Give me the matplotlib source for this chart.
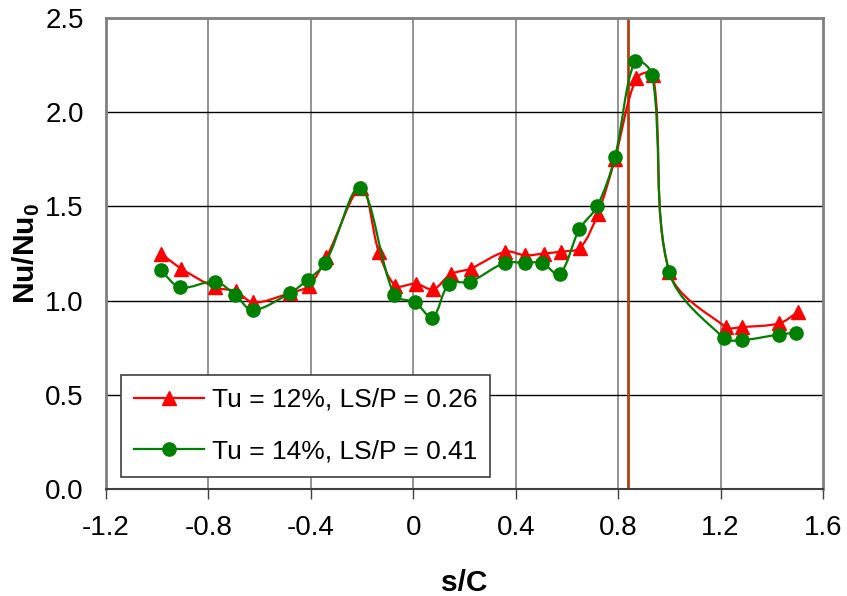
import matplotlib
matplotlib.use('Agg')
import numpy as np
import matplotlib.pyplot as plt
from matplotlib.path import Path
from matplotlib.patches import PathPatch
from matplotlib.lines import Line2D

plt.rcParams['font.family'] = ['Liberation Sans', 'DejaVu Sans']
plt.rcParams['mathtext.fontset'] = 'custom'
plt.rcParams['mathtext.rm'] = 'Liberation Sans'
plt.rcParams['mathtext.bf'] = 'Liberation Sans:bold'

# Tu = 12%, LS/P = 0.26
red_s = [-0.986, -0.906, -0.773, -0.693, -0.624, -0.482, -0.407, -0.339, -0.203,
         -0.135, -0.070, 0.010, 0.078, 0.146, 0.224, 0.360, 0.438, 0.509, 0.577,
         0.651, 0.720, 0.787, 0.871, 0.936, 1.000, 1.220, 1.285, 1.430, 1.503]
red_nu = [1.25, 1.17, 1.07, 1.05, 0.99, 1.04, 1.08, 1.23, 1.60,
          1.26, 1.08, 1.09, 1.06, 1.14, 1.17, 1.26, 1.24, 1.25, 1.26,
          1.28, 1.46, 1.75, 2.18, 2.20, 1.15, 0.86, 0.86, 0.88, 0.94]

# Tu = 14%, LS/P = 0.41
green_s = [-0.986, -0.909, -0.773, -0.695, -0.627, -0.482, -0.413, -0.343, -0.207,
           -0.074, 0.008, 0.075, 0.140, 0.221, 0.357, 0.435, 0.502, 0.571, 0.649,
           0.718, 0.787, 0.865, 0.933, 1.000, 1.214, 1.283, 1.428, 1.496]
green_nu = [1.16, 1.07, 1.10, 1.03, 0.95, 1.04, 1.11, 1.20, 1.60,
            1.03, 0.99, 0.91, 1.09, 1.10, 1.20, 1.20, 1.20, 1.14, 1.38,
            1.50, 1.76, 2.27, 2.20, 1.15, 0.80, 0.79, 0.82, 0.83]

marker_line = 0.837
labels = ['Tu = 12%, LS/P = 0.26', 'Tu = 14%, LS/P = 0.41']


def smooth_path(ax, xs, ys):
    # smoothed line like Excel: cubic Bezier segments, tangents scaled by chord length
    pts = ax.transData.transform(np.column_stack([xs, ys]))
    n = len(pts)
    verts = [pts[0]]
    codes = [Path.MOVETO]
    for i in range(n - 1):
        p0 = pts[i - 1] if i > 0 else pts[i]
        p1 = pts[i]
        p2 = pts[i + 1]
        p3 = pts[i + 2] if i + 2 < n else pts[i + 1]
        d01 = np.hypot(*(p1 - p0))
        d12 = np.hypot(*(p2 - p1))
        d23 = np.hypot(*(p3 - p2))
        t1 = (p2 - p0) * d12 / (d01 + d12) / 3 if d01 + d12 > 0 else 0
        t2 = (p3 - p1) * d12 / (d12 + d23) / 3 if d12 + d23 > 0 else 0
        verts += [p1 + t1, p2 - t2, p2]
        codes += [Path.CURVE4] * 3
    verts = ax.transData.inverted().transform(np.array(verts))
    return Path(verts, codes)


fig = plt.figure(figsize=(8.47, 5.96), dpi=100)
ax = fig.add_axes([0.1251, 0.1795, 0.8466, 0.7903])

ax.set_xlim(-1.2, 1.6)
ax.set_ylim(0, 2.5)
ax.set_xticks([-1.2, -0.8, -0.4, 0, 0.4, 0.8, 1.2, 1.6])
ax.set_xticklabels(['-1.2', '-0.8', '-0.4', '0', '0.4', '0.8', '1.2', '1.6'])
ax.set_yticks([0, 0.5, 1.0, 1.5, 2.0, 2.5])
ax.set_yticklabels(['0.0', '0.5', '1.0', '1.5', '2.0', '2.5'])

for x in [-0.8, -0.4, 0, 0.4, 0.8, 1.2]:
    ax.axvline(x, color='#808080', lw=1.2, zorder=1)
for y in [0.5, 1.0, 1.5, 2.0]:
    ax.axhline(y, color='black', lw=1.0, zorder=1)

ax.axvline(marker_line, color='#B04010', lw=2, zorder=2)

ax.add_patch(PathPatch(smooth_path(ax, red_s, red_nu), facecolor='none',
                       edgecolor='#FF0000', lw=1.6, zorder=3))
ax.plot(red_s, red_nu, linestyle='none', marker='^', ms=10.5,
        color='#FF0000', zorder=4)
ax.add_patch(PathPatch(smooth_path(ax, green_s, green_nu), facecolor='none',
                       edgecolor='#008000', lw=1.6, zorder=5))
ax.plot(green_s, green_nu, linestyle='none', marker='o', ms=9.5,
        color='#008000', zorder=6)

for side in ['left', 'right', 'top']:
    ax.spines[side].set_color('#808080')
    ax.spines[side].set_linewidth(2)
ax.spines['bottom'].set_color('#404040')
ax.spines['bottom'].set_linewidth(1.5)

ax.tick_params(axis='x', direction='out', length=7, width=1, color='#404040',
               labelsize=20, pad=12)
ax.tick_params(axis='y', length=0, labelsize=20, pad=16)

ax.set_xlabel('s/C', fontsize=21.5, fontweight='bold', labelpad=20)
ax.set_ylabel(r'Nu/Nu$_\mathbf{0}$', fontsize=21.5, fontweight='bold', labelpad=2)

handles = [Line2D([], [], color='#FF0000', lw=1.6, marker='^', ms=10.5),
           Line2D([], [], color='#008000', lw=1.6, marker='o', ms=9.5)]
leg = ax.legend(handles, labels, loc='lower left', bbox_to_anchor=(0.0205, 0.026),
                borderaxespad=0, fontsize=19, fancybox=False, framealpha=1,
                edgecolor='#404040', handlelength=2.65, handletextpad=0.3,
                labelspacing=1.05, borderpad=0.5)
leg.get_frame().set_linewidth(1.2)
leg.set_zorder(10)

fig.savefig('out.png', dpi=100)
